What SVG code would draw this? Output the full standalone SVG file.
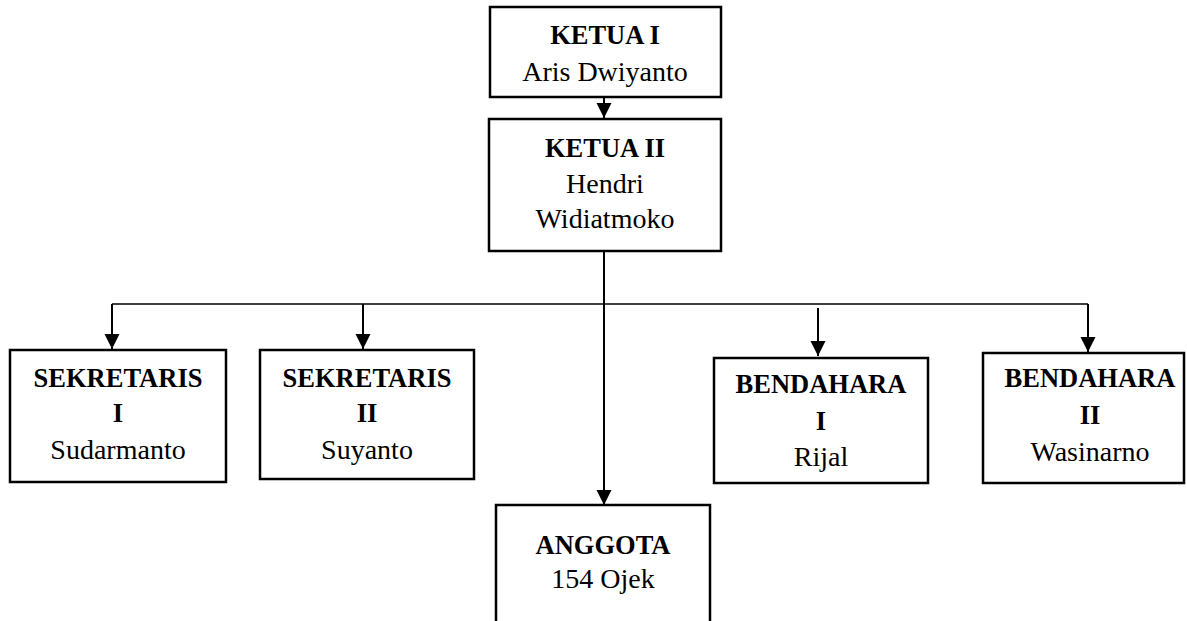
<svg xmlns="http://www.w3.org/2000/svg" width="1187" height="621" viewBox="0 0 1187 621">
<style>
.box{fill:#fff;stroke:#000;stroke-width:2.5}
text{font-family:'Liberation Serif','Times New Roman',Times,'DejaVu Serif',serif;text-anchor:middle;fill:#000}
.b{font-weight:bold;font-size:26.5px}
.r{font-weight:normal;font-size:28px}
.c{stroke:#000;stroke-width:2;fill:none}
.h{stroke:#000;stroke-width:1.5;fill:none}
</style>
<defs>
<marker id="ah" markerUnits="userSpaceOnUse" markerWidth="16" markerHeight="16" viewBox="0 0 16 16" refX="15" refY="8" orient="auto">
<path d="M0,0.5 L15,8 L0,15.5 Z" fill="#000"/>
</marker>
</defs>
<rect width="1187" height="621" fill="#fff"/>
<g id="connectors">
<line class="c" x1="604" y1="97" x2="604" y2="118" marker-end="url(#ah)"/>
<line class="c" x1="604" y1="251" x2="604" y2="505" marker-end="url(#ah)"/>
<line class="h" x1="112" y1="304" x2="1088" y2="304"/>
<line class="c" x1="112" y1="304" x2="112" y2="349" marker-end="url(#ah)"/>
<line class="c" x1="363" y1="304" x2="363" y2="349" marker-end="url(#ah)"/>
<line class="c" x1="818" y1="308" x2="818" y2="356" marker-end="url(#ah)"/>
<line class="c" x1="1088" y1="304" x2="1088" y2="352" marker-end="url(#ah)"/>
</g>
<g id="ketua1">
<rect class="box" x="490" y="7" width="231" height="90"/>
<text class="b" x="605" y="44">KETUA I</text>
<text class="r" x="605" y="81">Aris Dwiyanto</text>
</g>
<g id="ketua2">
<rect class="box" x="489" y="119" width="232" height="132"/>
<text class="b" x="605" y="157">KETUA II</text>
<text class="r" x="605" y="193">Hendri</text>
<text class="r" x="605" y="228">Widiatmoko</text>
</g>
<g id="sekretaris1">
<rect class="box" x="10" y="350" width="216" height="132"/>
<text class="b" x="118" y="387">SEKRETARIS</text>
<text class="b" x="118" y="422">I</text>
<text class="r" x="118" y="459">Sudarmanto</text>
</g>
<g id="sekretaris2">
<rect class="box" x="260" y="350" width="214" height="129"/>
<text class="b" x="367" y="387">SEKRETARIS</text>
<text class="b" x="367" y="422">II</text>
<text class="r" x="367" y="459">Suyanto</text>
</g>
<g id="bendahara1">
<rect class="box" x="714" y="358" width="214" height="125"/>
<text class="b" x="821" y="393">BENDAHARA</text>
<text class="b" x="821" y="430">I</text>
<text class="r" x="821" y="466">Rijal</text>
</g>
<g id="bendahara2">
<rect class="box" x="983" y="353" width="201" height="130"/>
<text class="b" x="1090" y="387">BENDAHARA</text>
<text class="b" x="1090" y="424">II</text>
<text class="r" x="1090" y="461">Wasinarno</text>
</g>
<g id="anggota">
<rect class="box" x="496" y="505" width="214" height="140"/>
<text class="b" x="603" y="554">ANGGOTA</text>
<text class="r" x="603" y="588">154 Ojek</text>
</g>
</svg>
